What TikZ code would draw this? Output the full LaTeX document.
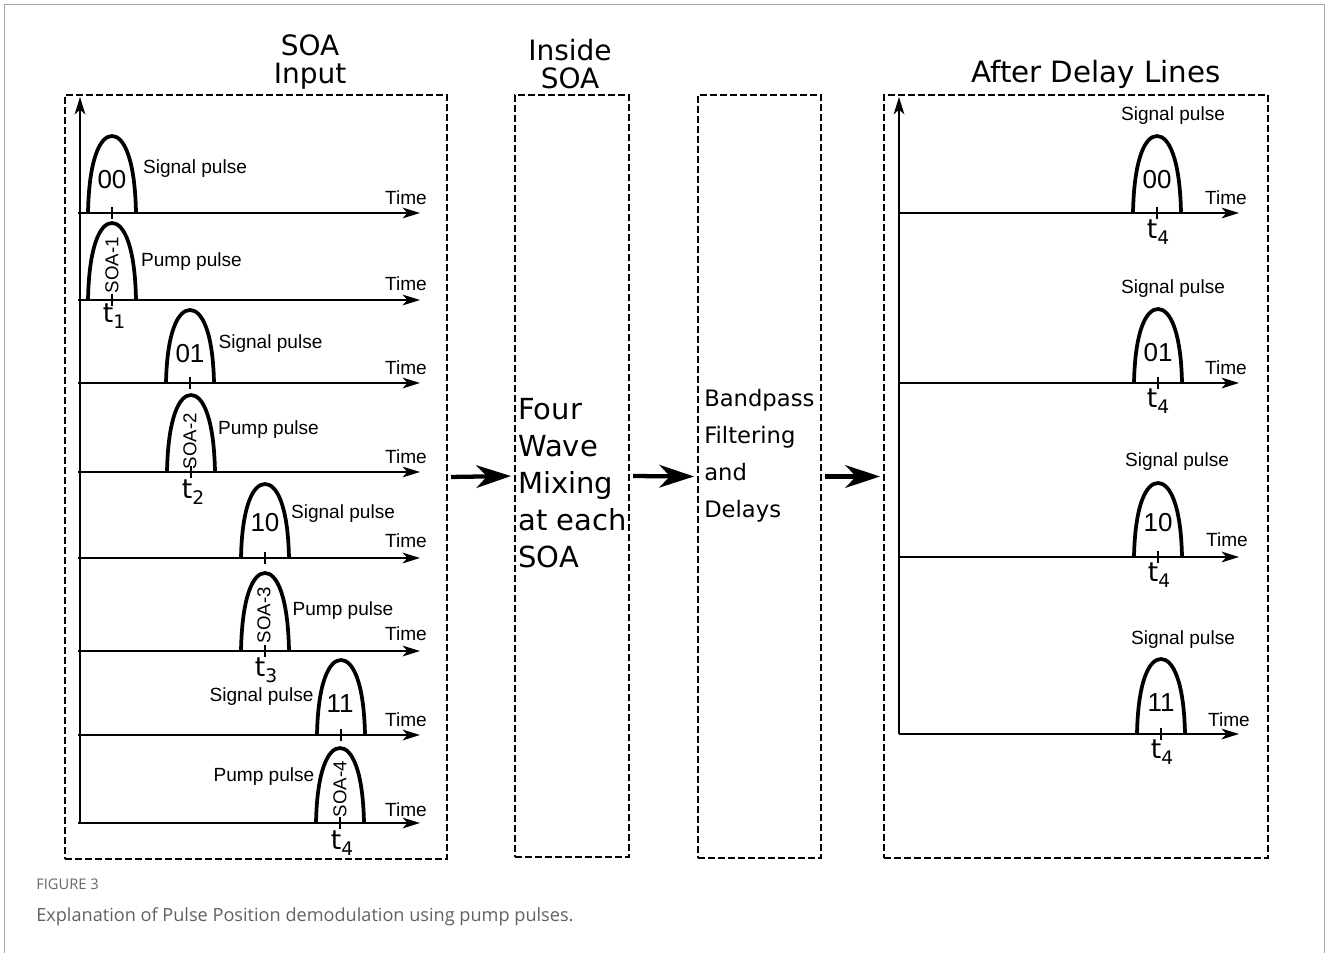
\documentclass[tikz,border=0pt]{standalone}
\usepackage{fontspec}
\setmainfont{Liberation Sans}
\newfontfamily\dvfont{DejaVu Sans}
\newfontfamily\capfont{Open Sans}
\usetikzlibrary{arrows.meta,fit}
\newcommand\pulsearch[3]{%
  \draw[pls] (#1-24,#2) .. controls (#1-23,#2*0.3+#3*0.7) and (#1-12,#3) .. (#1,#3)
     .. controls (#1+12,#3) and (#1+23,#2*0.3+#3*0.7) .. (#1+24,#2);}
\newcommand\tsub[1]{t\raisebox{-4.5pt}{\fontsize{14}{15}\selectfont #1}}
\begin{document}
\begin{tikzpicture}[x=0.75pt,y=-0.75pt,
  lbl/.style={font=\fontsize{14.3}{16}\selectfont, inner sep=0pt},
  num/.style={font=\fontsize{19.5}{21}\selectfont, inner sep=0pt},
  soalbl/.style={font=\fontsize{14}{16}\selectfont, inner sep=0pt, rotate=90},
  tlab/.style={font=\dvfont\fontsize{20}{22}\selectfont, inner sep=0pt},
  head/.style={font=\dvfont\fontsize{21}{20.5}\selectfont, align=center, inner sep=0pt},
  boxtxt/.style={font=\dvfont\fontsize{21.75}{27.75}\selectfont, align=left, inner sep=0pt, anchor=west},
  dbox/.style={draw, line width=1.5pt, dash pattern=on 5pt off 2.5pt, inner sep=0pt},
  axis/.style={line width=1.7pt, -{Stealth[length=13pt,width=8pt,inset=3.5pt]}},
  pls/.style={line width=2.8pt},
  tick/.style={line width=0.8pt},
  bigarrow/.style={line width=3.2pt, -{Stealth[length=26pt,width=17pt,inset=8pt]}, shorten <=2.25pt, shorten >=2.25pt},
  frame/.style={draw=black!35, line width=0.75pt}]
\useasboundingbox (0,0) rectangle (1328,953);
\draw[frame] (4,953) -- (4,4) -- (1324,4) -- (1324,953);

% boxes
\coordinate (b1a) at (65,95);  \coordinate (b1b) at (447,859);
\coordinate (b2a) at (515,95); \coordinate (b2b) at (629,857);
\coordinate (b3a) at (698,95); \coordinate (b3b) at (821,858);
\coordinate (b4a) at (884,95); \coordinate (b4b) at (1268,858);
\node[dbox, fit=(b1a)(b1b)] (inbox) {};
\node[dbox, fit=(b2a)(b2b)] (fwmbox) {};
\node[dbox, fit=(b3a)(b3b)] (bpbox) {};
\node[dbox, fit=(b4a)(b4b)] (outbox) {};
\draw[bigarrow] (inbox.east) -- (fwmbox.west);
\draw[bigarrow] (fwmbox.east) -- (bpbox.west);
\draw[bigarrow] (bpbox.east) -- (outbox.west);

% headers
\node[head] (h1) at (310,62) {SOA\\Input};
\node[head] (h2) at (570,64) {Inside\\SOA};
\node[head, font=\dvfont\fontsize{22}{24}\selectfont] (h4) at (1096,74) {After Delay Lines};
\node[boxtxt] (fwm) at (518,483) {Four\\Wave\\Mixing\\at each\\SOA};
\node[boxtxt, font=\dvfont\fontsize{17}{27.75}\selectfont] (bp) at (704,455.5) {Bandpass\\Filtering\\and\\Delays};

% left panel axes
\coordinate (lo) at (80,823);
\coordinate (ltop) at (80,97);
\draw[axis] (lo) -- (ltop);
\foreach \yy in {213,300,383,472,558,651,735,823}
  \draw[axis] (78,\yy) -- (420,\yy);
\foreach \yy/\tt in {198/1,284/2,368/3,457/4,541/5,634/6,720/7,810/8}
  \node[lbl] (ltime\tt) at (406,\yy) {Time};

% left pulses
\pulsearch{112}{213}{136}
\pulsearch{112}{300}{223}
\pulsearch{190}{383}{310}
\pulsearch{191}{472}{395}
\pulsearch{265}{558}{484}
\pulsearch{265}{651}{573}
\pulsearch{341}{735}{660}
\pulsearch{340}{823}{748}
\foreach \xx/\yy in {112/213,112/300,190/383,191/472,265/558,265/651,341/735,340/823}
  \draw[tick] (\xx,\yy-6) -- (\xx,\yy+6);

\node[num] (n00) at (112,180) {00};
\node[num] (n01) at (190,354) {01};
\node[num] (n10) at (265,523) {10};
\node[num] (n11) at (340,704) {11};
\node[soalbl] (s1) at (112,265) {SOA-1};
\node[soalbl] (s2) at (190,441) {SOA-2};
\node[soalbl] (s3) at (264,615) {SOA-3};
\node[soalbl] (s4) at (340,789) {SOA-4};
\node[lbl] (ls1) at (195,169) {Signal pulse};
\node[lbl] (lp1) at (191.5,262) {Pump pulse};
\node[lbl] (ls2) at (270.5,344) {Signal pulse};
\node[lbl] (lp2) at (268.5,430) {Pump pulse};
\node[lbl] (ls3) at (343,514) {Signal pulse};
\node[lbl] (lp3) at (343,611) {Pump pulse};
\node[lbl] (ls4) at (261.5,697) {Signal pulse};
\node[lbl] (lp4) at (264,777) {Pump pulse};
\node[tlab] (t1) at (114,316) {\tsub{1}};
\node[tlab] (t2) at (193,492) {\tsub{2}};
\node[tlab] (t3) at (266,670) {\tsub{3}};
\node[tlab] (t4) at (342,843) {\tsub{4}};

% right panel
\coordinate (ro) at (899,734);
\coordinate (rtop) at (899,97);
\draw[axis] (ro) -- (rtop);
\foreach \yy in {213,383,557,734}
  \draw[axis] (899,\yy) -- (1239,\yy);
\node[lbl] (rtime1) at (1226,198) {Time};
\node[lbl] (rtime2) at (1226,368) {Time};
\node[lbl] (rtime3) at (1227,540) {Time};
\node[lbl] (rtime4) at (1229,720) {Time};
\pulsearch{1157}{213}{136}
\pulsearch{1158}{383}{309}
\pulsearch{1158}{557}{483}
\pulsearch{1161}{734}{659}
\foreach \xx/\yy in {1157/213,1158/383,1158/557,1161/734}
  \draw[tick] (\xx,\yy-6) -- (\xx,\yy+6);
\node[num] (r00) at (1157,180) {00};
\node[num] (r01) at (1158,353) {01};
\node[num] (r10) at (1158,523) {10};
\node[num] (r11) at (1161,703) {11};
\node[lbl] (rs1) at (1173,116) {Signal pulse};
\node[lbl] (rs2) at (1173,289) {Signal pulse};
\node[lbl] (rs3) at (1177,462) {Signal pulse};
\node[lbl] (rs4) at (1183,640) {Signal pulse};
\node[tlab] (rt1) at (1158,232) {\tsub{4}};
\node[tlab] (rt2) at (1158,401) {\tsub{4}};
\node[tlab] (rt3) at (1159,575) {\tsub{4}};
\node[tlab] (rt4) at (1162,752) {\tsub{4}};

% caption
\node[anchor=west, inner sep=0pt, text=black!60, font=\capfont\fontsize{11}{12}\selectfont] (figno) at (36,884) {FIGURE 3};
\node[anchor=west, inner sep=0pt, text=black!62, font=\capfont\fontsize{13.6}{16}\selectfont] (cap) at (36,917) {Explanation of Pulse Position demodulation using pump pulses.};
\end{tikzpicture}
\end{document}
